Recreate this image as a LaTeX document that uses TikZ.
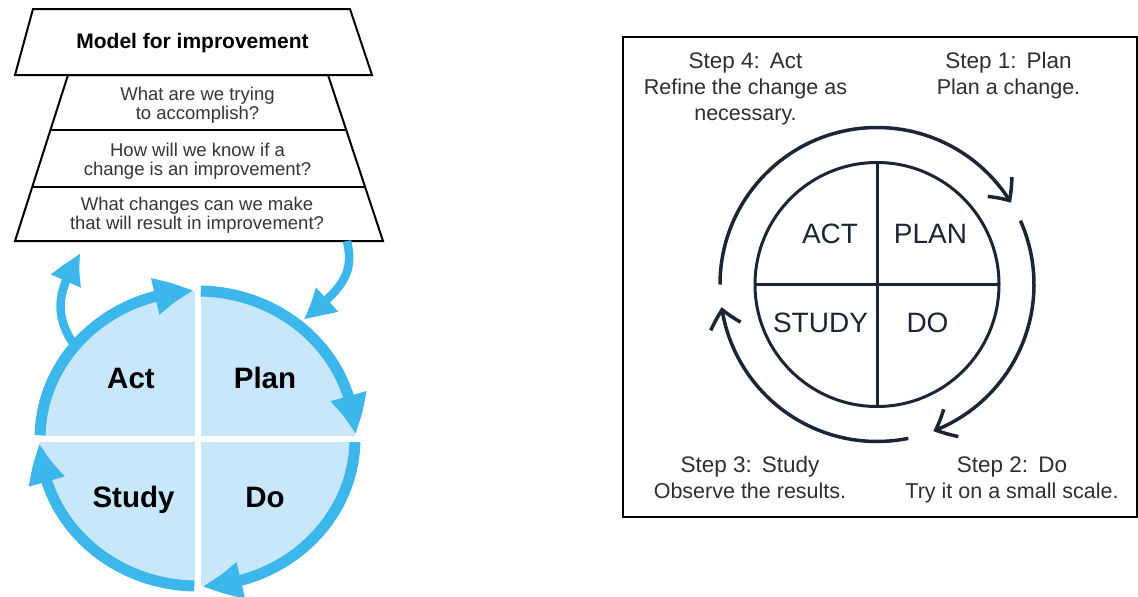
\documentclass[tikz,border=0pt]{standalone}
\usepackage{fontspec}
\setmainfont{Liberation Sans}
\usetikzlibrary{arrows.meta,bending}
\definecolor{cyanb}{HTML}{3CB7EB}
\definecolor{lightb}{HTML}{C9E7FB}
\definecolor{navy}{HTML}{1B2535}
\definecolor{qgray}{HTML}{353535}
\definecolor{sgray}{HTML}{2E2E2E}
\newcommand{\mlines}[1]{\begin{tabular}[t]{@{}c@{}}#1\end{tabular}}
\begin{document}
\begin{tikzpicture}[x=1pt,y=-1pt,
  pyr/.style={draw=black, line width=2pt, line join=miter},
  titletext/.style={font=\bfseries\fontsize{21}{24}\selectfont, anchor=base, inner sep=0pt},
  qtext/.style={font=\fontsize{18.5}{19}\selectfont, text=qgray, anchor=base, inner sep=0pt},
  ring/.style={draw=cyanb, line width=11pt, -{Triangle[length=40pt,width=34pt,bend]}},
  sidearr/.style={draw=cyanb, line width=8.5pt, -{Triangle[length=34pt,width=29pt,bend]}},
  whitegap/.style={draw=white, line width=6pt},
  qlab/.style={font=\bfseries\fontsize{29.5}{32}\selectfont, text=black, anchor=base, inner sep=0pt},
  boxframe/.style={draw=black, line width=2pt},
  navyline/.style={draw=navy, line width=3pt},
  cycarr/.style={draw=navy, line width=3.5pt, -{Straight Barb[length=17pt,width=31pt,bend]}},
  plab/.style={font=\fontsize{28}{30}\selectfont, text=navy, anchor=base, inner sep=0pt},
  steptext/.style={font=\fontsize{21.5}{26}\selectfont, text=sgray, anchor=base, inner sep=0pt},
]
\useasboundingbox (0,0) rectangle (1138,597);

% ---------- Left: model for improvement ----------
\draw[pyr] (33,9) -- (350,9) -- (372,75) -- (15,75) -- cycle;
\draw[pyr] (68,75) -- (328,75) -- (383,241) -- (15,241) -- cycle;
\draw[pyr] (50.4,130) -- (346.2,130);
\draw[pyr] (32.2,187) -- (365.1,187);

\node[titletext] (mtitle) at (192.5,48) {Model for improvement};
\node[qtext] (q1) at (197.5,100) {\mlines{What are we trying\\to accomplish?}};
\node[qtext] (q2) at (197.5,156) {\mlines{How will we know if a\\change is an improvement?}};
\node[qtext] (q3) at (197,210) {\mlines{What changes can we make\\that will result in improvement?}};

\coordinate (lc) at (197.5,438.5);
\fill[lightb] (lc) ellipse [x radius=157.5, y radius=147.5];
\coordinate (vgt) at (197.5,280);
\coordinate (vgb) at (197.5,597);
\coordinate (hgl) at (30,438.5);
\coordinate (hgr) at (370,438.5);
\draw[whitegap] (vgt) -- (vgb);
\draw[whitegap] (hgl) -- (hgr);

\draw[ring] ([shift={(181.3:157.5 and 147.5)}]lc) arc[start angle=181.3, end angle=268.8, x radius=157.5, y radius=147.5];
\draw[ring] ([shift={(271.2:157.5 and 147.5)}]lc) arc[start angle=271.2, end angle=358.6, x radius=157.5, y radius=147.5];
\draw[ring] ([shift={(1.4:157.5 and 147.5)}]lc) arc[start angle=1.4, end angle=88.4, x radius=157.5, y radius=147.5];
\draw[ring] ([shift={(91.2:157.5 and 147.5)}]lc) arc[start angle=91.2, end angle=178.3, x radius=157.5, y radius=147.5];

\coordinate (lstart) at (75,346);
\coordinate (ltip) at (81,253);
\draw[sidearr] (lstart) .. controls (53,315) and (57,290) .. (ltip);
\coordinate (ptop) at (347,241);
\coordinate (pend) at (303,320);
\draw[sidearr] (ptop) .. controls (354,272) and (345,287) .. (pend);

\node[qlab] (act) at (131,388) {Act};
\node[qlab] (plan) at (265,388) {Plan};
\node[qlab] (study) at (133.5,507) {Study};
\node[qlab] (do) at (265,507) {Do};

% ---------- Right: PDSA cycle ----------
\draw[boxframe] (623,37) rectangle (1137,517);

\node[circle, navyline, minimum size=244pt, inner sep=0pt, outer sep=0pt] (ic) at (877,284.5) {};
\draw[navyline] (ic.north) -- (ic.south);
\draw[navyline] (ic.west) -- (ic.east);

\draw[cycarr] ([shift={(180:157)}]ic.center) arc[start angle=180, end angle=328.6, radius=157];
\draw[cycarr] ([shift={(-24:157)}]ic.center) arc[start angle=-24, end angle=69, radius=157];
\draw[cycarr] ([shift={(78.5:157)}]ic.center) arc[start angle=78.5, end angle=171.7, radius=157];

\node[plab] (lact) at (830,243) {ACT};
\node[plab] (lplan) at (930.5,243) {PLAN};
\node[plab] (lstudy) at (820.5,332) {STUDY};
\node[plab] (ldo) at (927.5,332) {DO};

\node[steptext] (s4) at (745.5,68) {\mlines{{\fontsize{22.5}{26}\selectfont Step 4:\hspace{0.45em}Act}\\Refine the change as\\necessary.}};
\node[steptext] (s1) at (1008.5,68) {\mlines{{\fontsize{22.5}{26}\selectfont Step 1:\hspace{0.45em}Plan}\\Plan a change.}};
\node[steptext] (s3) at (750,472) {\mlines{{\fontsize{22.5}{26}\selectfont Step 3:\hspace{0.45em}Study}\\Observe the results.}};
\node[steptext] (s2) at (1012,472) {\mlines{{\fontsize{22.5}{26}\selectfont Step 2:\hspace{0.45em}Do}\\Try it on a small scale.}};
\end{tikzpicture}
\end{document}
